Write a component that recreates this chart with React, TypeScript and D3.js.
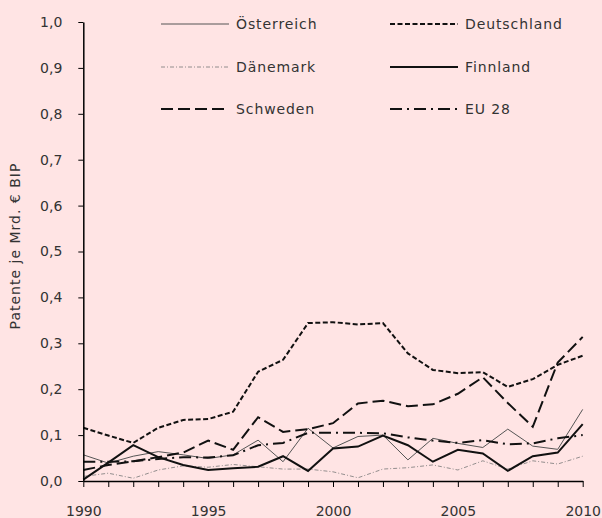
import { useEffect, useRef } from "react";
import * as d3 from "d3";

const years = [
  1990, 1991, 1992, 1993, 1994, 1995, 1996, 1997, 1998, 1999, 2000,
  2001, 2002, 2003, 2004, 2005, 2006, 2007, 2008, 2009, 2010,
];

const oesterreich = [
  0.057, 0.039, 0.054, 0.064, 0.057, 0.049, 0.057, 0.089, 0.042, 0.115, 0.072,
  0.097, 0.1, 0.046, 0.093, 0.082, 0.073, 0.113, 0.076, 0.069, 0.156,
];
const deutschland = [
  0.116, 0.099, 0.083, 0.116, 0.133, 0.135, 0.151, 0.238, 0.264, 0.344, 0.346,
  0.341, 0.344, 0.278, 0.242, 0.235, 0.237, 0.205, 0.222, 0.253, 0.273,
];
const daenemark = [
  0.01, 0.017, 0.006, 0.024, 0.033, 0.03, 0.036, 0.031, 0.026, 0.026, 0.02,
  0.007, 0.026, 0.029, 0.035, 0.024, 0.044, 0.026, 0.044, 0.037, 0.054,
];
const finnland = [
  0.003, 0.04, 0.078, 0.052, 0.035, 0.024, 0.028, 0.031, 0.054, 0.022, 0.071,
  0.075, 0.099, 0.078, 0.042, 0.068, 0.06, 0.022, 0.054, 0.062, 0.124,
];
const schweden = [
  0.024, 0.035, 0.043, 0.052, 0.062, 0.088, 0.068, 0.139, 0.107, 0.113, 0.126,
  0.169, 0.175, 0.163, 0.167, 0.19, 0.226, 0.17, 0.118, 0.258, 0.314,
];
const eu28 = [
  0.042, 0.042, 0.043, 0.048, 0.052, 0.051, 0.056, 0.078, 0.083, 0.105, 0.105,
  0.105, 0.104, 0.095, 0.088, 0.083, 0.089, 0.08, 0.082, 0.093, 0.1,
];

const yTicks = [0, 0.1, 0.2, 0.3, 0.4, 0.5, 0.6, 0.7, 0.8, 0.9, 1.0];
const xLabels = [1990, 1995, 2000, 2005, 2010];

interface Series {
  name: string;
  values: number[];
  stroke: string;
  width: number;
  dash: string | null;
}

const series: Series[] = [
  { name: "Österreich", values: oesterreich, stroke: "#555", width: 1, dash: null },
  { name: "Deutschland", values: deutschland, stroke: "#111", width: 2, dash: "5,2.5" },
  { name: "Dänemark", values: daenemark, stroke: "#777", width: 0.8, dash: "4,2,1,2" },
  { name: "Finnland", values: finnland, stroke: "#111", width: 2, dash: null },
  { name: "Schweden", values: schweden, stroke: "#111", width: 2, dash: "12,5" },
  { name: "EU 28", values: eu28, stroke: "#111", width: 2, dash: "12,5,2,5" },
];

const W = 602;
const H = 518;
const FONT = "'DejaVu Sans', sans-serif";
const TEXT = "#333";

export default function App() {
  const svgRef = useRef<SVGSVGElement>(null);

  useEffect(() => {
    if (!svgRef.current) return;
    const svg = d3.select(svgRef.current);
    svg.selectAll("*").remove();

    svg.append("rect").attr("width", W).attr("height", H).attr("fill", "#ffe4e4");

    const x = d3.scaleLinear().domain([1990, 2010]).range([83.3, 582.7]);
    const y = d3.scaleLinear().domain([0, 1]).range([481, 22]);

    // Lines
    const line = d3
      .line<number>()
      .x((_, i) => x(years[i]))
      .y((d) => y(d));

    series.forEach((s) => {
      svg
        .append("path")
        .datum(s.values)
        .attr("fill", "none")
        .attr("stroke", s.stroke)
        .attr("stroke-width", s.width)
        .attr("stroke-dasharray", s.dash)
        .attr("stroke-linejoin", "miter")
        .attr("d", line);
    });

    // X axis
    svg
      .append("g")
      .attr("transform", `translate(0,${y(0)})`)
      .call(
        d3
          .axisBottom(x)
          .tickValues(years)
          .tickSize(6)
          .tickSizeOuter(0)
          .tickFormat((d) => (xLabels.includes(d as number) ? String(d) : ""))
      )
      .call((axis) => {
        axis.select(".domain").attr("stroke", "#000").attr("stroke-width", 1.5);
        axis.selectAll(".tick line").attr("stroke", "#000");
        axis
          .selectAll(".tick text")
          .attr("y", 25)
          .attr("font-family", FONT)
          .attr("font-size", 14)
          .attr("fill", TEXT);
      });

    // Y axis
    svg
      .append("g")
      .attr("transform", `translate(${x(1990)},0)`)
      .call(
        d3
          .axisLeft(y)
          .tickValues(yTicks)
          .tickSize(5)
          .tickSizeOuter(0)
          .tickPadding(16)
          .tickFormat((d) => d3.format(".1f")(d as number).replace(".", ","))
      )
      .call((axis) => {
        axis.select(".domain").attr("stroke", "#000").attr("stroke-width", 1.5);
        axis.selectAll(".tick line").attr("stroke", "#000");
        axis
          .selectAll(".tick text")
          .attr("font-family", FONT)
          .attr("font-size", 14)
          .attr("fill", TEXT);
      });

    // Y label
    svg
      .append("text")
      .attr("transform", "translate(20,246) rotate(-90)")
      .attr("text-anchor", "middle")
      .attr("font-family", FONT)
      .attr("font-size", 14)
      .attr("letter-spacing", 1)
      .attr("fill", TEXT)
      .text("Patente je Mrd. € BIP");

    // Legend
    const cols = [161, 390];
    const rows = [24, 67, 109];
    series.forEach((s, i) => {
      const lx = cols[i % 2];
      const ly = rows[Math.floor(i / 2)];
      const g = svg.append("g").attr("transform", `translate(${lx},${ly})`);
      g.append("line")
        .attr("x1", 0)
        .attr("x2", 68)
        .attr("stroke", s.stroke)
        .attr("stroke-width", s.width)
        .attr("stroke-dasharray", s.dash);
      g.append("text")
        .attr("x", 75)
        .attr("dy", "0.35em")
        .attr("font-family", FONT)
        .attr("font-size", 14)
        .attr("letter-spacing", 0.9)
        .attr("fill", TEXT)
        .text(s.name);
    });
  }, []);

  return (
    <svg
      ref={svgRef}
      width={W}
      height={H}
      style={{ position: "absolute", left: 0, top: 0, display: "block" }}
    />
  );
}
